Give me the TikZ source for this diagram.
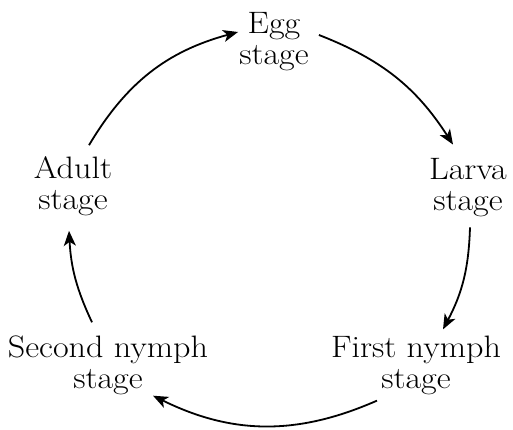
\documentclass[tikz,border=0pt]{standalone}
\usepackage{fontspec}
\setmainfont{Latin Modern Roman}[FakeStretch=1.1]
\usepackage{tikz}
\usetikzlibrary{arrows.meta}

\begin{document}
\begin{tikzpicture}[x=1pt,y=1pt,
  stagenode/.style={align=center,inner sep=2pt,font=\fontsize{31}{31}\selectfont},
  cycarrow/.style={line width=1.8pt,-{Stealth[length=15pt,width=12pt,inset=4pt]}}]
\useasboundingbox (0,0) rectangle (513,430);
% the five stages
\node[stagenode] (egg) at (274,388) {Egg\\stage};
\node[stagenode] (larva) at (468,242) {Larva\\stage};
\node[stagenode] (first) at (416,65) {First nymph\\stage};
\node[stagenode] (second) at (108,65) {Second nymph\\stage};
\node[stagenode] (adult) at (73,244) {Adult\\stage};
% the cycle
\draw[cycarrow] ([shift={(16,9)}]adult.north) to[bend left=22] ([shift={(1,10)}]egg.west);
\draw[cycarrow] ([shift={(8,7)}]egg.east) to[bend left=18] ([shift={(-15,12)}]larva.north);
\draw[cycarrow] ([shift={(2,-8)}]larva.south) to[bend left=13] ([shift={(27,4)}]first.north);
\draw[cycarrow] ([shift={(-39,-4)}]first.south) to[bend left=25] ([shift={(45,1)}]second.south);
\draw[cycarrow] ([shift={(-16,11)}]second.north) to[bend left=11] ([shift={(-4,-13)}]adult.south);
\end{tikzpicture}
\end{document}
